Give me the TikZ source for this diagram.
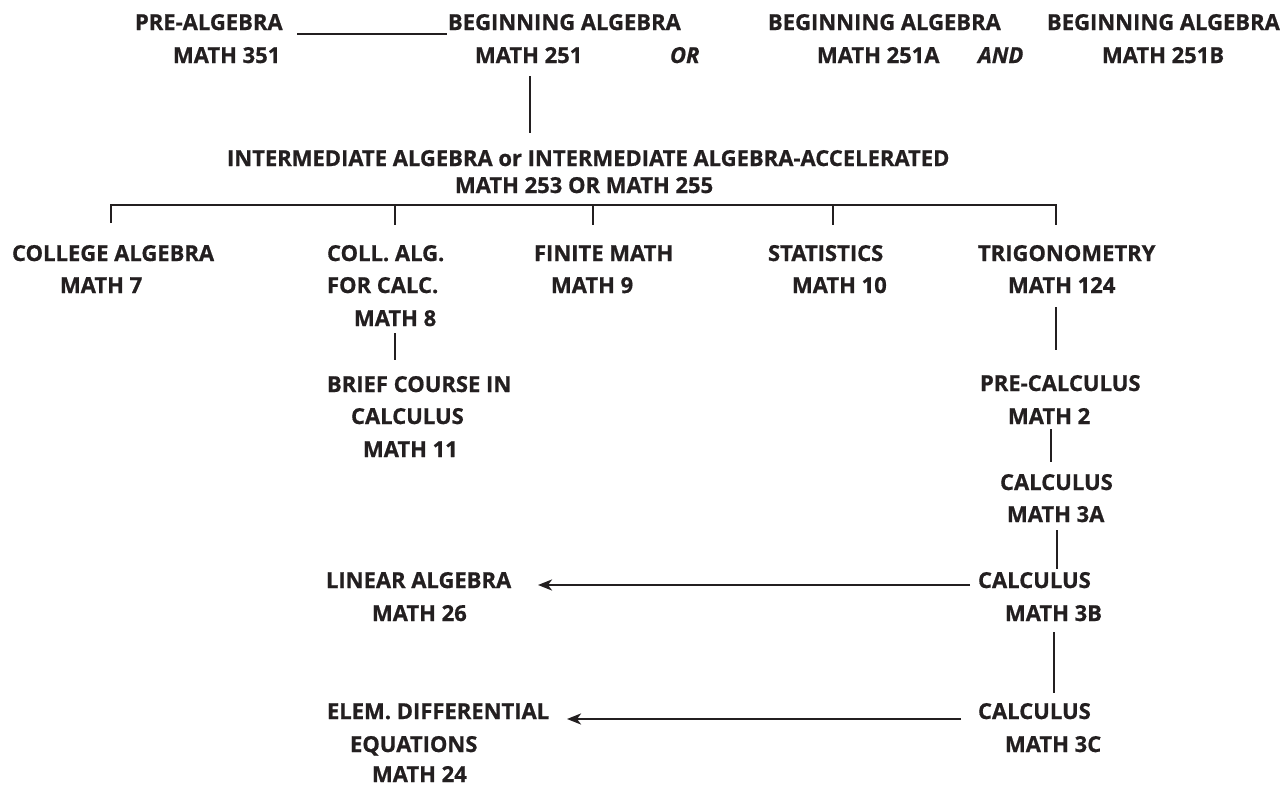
\documentclass[tikz,border=0pt]{standalone}
\usepackage{fontspec}
\setmainfont{Open Sans}[BoldFeatures={FakeBold=0.7},BoldItalicFeatures={FakeBold=0.7}]
\usetikzlibrary{arrows.meta}
\definecolor{ink}{RGB}{35,31,32}
\tikzset{
  lbl/.style={anchor=base west, inner sep=0pt, outer sep=0pt, text=ink,
    font=\fontsize{22}{26}\selectfont\bfseries},
  ital/.style={lbl, font=\fontsize{22}{26}\selectfont\bfseries\itshape},
  conn/.style={draw=ink, line width=2.6pt},
  arr/.style={conn, -{Stealth[length=14pt,width=11pt,inset=4pt]}}
}
\begin{document}
\begin{tikzpicture}[x=1pt,y=-1pt]
\useasboundingbox (0,0) rectangle (1282,785);
% row 1-2
\node[lbl] (pa) at (135,30) {PRE-ALGEBRA};
\node[lbl] (m351) at (173,63) {MATH 351};
\node[lbl] (ba1) at (448,30) {BEGINNING ALGEBRA};
\node[lbl] (m251) at (475,63) {MATH 251};
\node[ital] (or) at (670,63) {OR};
\node[lbl] (ba2) at (768,30) {BEGINNING ALGEBRA};
\node[lbl] (m251a) at (817,63) {MATH 251A};
\node[ital] (and) at (978,63) {AND};
\node[lbl] (ba3) at (1047,30) {BEGINNING ALGEBRA};
\node[lbl] (m251b) at (1102,63) {MATH 251B};
% row 3
\node[lbl] (ia) at (227,166) {INTERMEDIATE ALGEBRA or INTERMEDIATE ALGEBRA-ACCELERATED};
\node[lbl] (m253) at (455,193) {MATH 253 OR MATH 255};
% row 4
\node[lbl] (ca) at (12,261) {COLLEGE ALGEBRA};
\node[lbl] (m7) at (60,293) {MATH 7};
\node[lbl] (cal1) at (327,261) {COLL. ALG.};
\node[lbl] (cal2) at (327,293) {FOR CALC.};
\node[lbl] (m8) at (354,326) {MATH 8};
\node[lbl] (bc1) at (327,392) {BRIEF COURSE IN};
\node[lbl] (bc2) at (351,424) {CALCULUS};
\node[lbl] (m11) at (363,457) {MATH 11};
\node[lbl] (fm) at (534,261) {FINITE MATH};
\node[lbl] (m9) at (551,293) {MATH 9};
\node[lbl] (st) at (768,261) {STATISTICS};
\node[lbl] (m10) at (792,293) {MATH 10};
\node[lbl] (tr) at (978,261) {TRIGONOMETRY};
\node[lbl] (m124) at (1008,293) {MATH 124};
\node[lbl] (pc) at (980,391) {PRE-CALCULUS};
\node[lbl] (m2) at (1008,424) {MATH 2};
\node[lbl] (c3a) at (1000,490) {CALCULUS};
\node[lbl] (m3a) at (1007,522) {MATH 3A};
\node[lbl] (c3b) at (978,588) {CALCULUS};
\node[lbl] (m3b) at (1005,621) {MATH 3B};
\node[lbl] (c3c) at (978,719) {CALCULUS};
\node[lbl] (m3c) at (1005,752) {MATH 3C};
\node[lbl] (la) at (326,588) {LINEAR ALGEBRA};
\node[lbl] (m26) at (372,621) {MATH 26};
\node[lbl] (de1) at (327,719) {ELEM. DIFFERENTIAL};
\node[lbl] (de2) at (350,752) {EQUATIONS};
\node[lbl] (m24) at (372,782) {MATH 24};
% connector coordinates
\coordinate (u1) at (297,34);
\coordinate (u2) at (447,34);
\coordinate (v1a) at (530,76);
\coordinate (v1b) at (530,133);
\coordinate (bl) at (111,205);
\coordinate (br) at (1056,205);
\coordinate (t1) at (111,223);
\coordinate (t2a) at (395,205);
\coordinate (t2) at (395,225);
\coordinate (t3a) at (593,205);
\coordinate (t3) at (593,225);
\coordinate (t4a) at (833,205);
\coordinate (t4) at (833,225);
\coordinate (t5) at (1056,225);
\coordinate (v2a) at (395,333);
\coordinate (v2b) at (395,360);
\coordinate (v3a) at (1056,307);
\coordinate (v3b) at (1056,350);
\coordinate (v4a) at (1051,429);
\coordinate (v4b) at (1051,462);
\coordinate (v5a) at (1057,530);
\coordinate (v5b) at (1057,569);
\coordinate (v6a) at (1054,632);
\coordinate (v6b) at (1054,693);
\coordinate (a1s) at (970,585);
\coordinate (a1e) at (538,585);
\coordinate (a2s) at (961,719);
\coordinate (a2e) at (567,719);
% connectors
\draw[conn] (u1) -- (u2);
\draw[conn] (v1a) -- (v1b);
\draw[conn] (t1) -- (bl) -- (br) -- (t5);
\draw[conn] (t2a) -- (t2);
\draw[conn] (t3a) -- (t3);
\draw[conn] (t4a) -- (t4);
\draw[conn] (v2a) -- (v2b);
\draw[conn] (v3a) -- (v3b);
\draw[conn] (v4a) -- (v4b);
\draw[conn] (v5a) -- (v5b);
\draw[conn] (v6a) -- (v6b);
\draw[arr] (a1s) -- (a1e);
\draw[arr] (a2s) -- (a2e);
\end{tikzpicture}
\end{document}
